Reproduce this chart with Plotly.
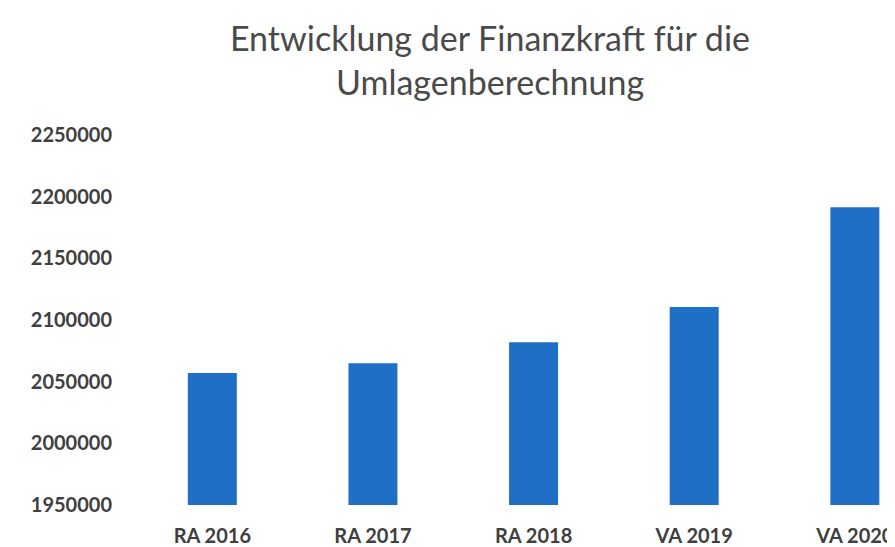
import plotly.graph_objects as go

categories = ["RA 2016", "RA 2017", "RA 2018", "VA 2019", "VA 2020"]
values = [2057000, 2065000, 2082000, 2110500, 2191500]
y_ticks = [1950000, 2000000, 2050000, 2100000, 2150000, 2200000, 2250000]

W, H = 887, 539  # page body adds an 8px offset in the browser

fig = go.Figure(go.Bar(
    x=categories, y=values,
    marker=dict(color="#1F6FC6", line=dict(width=0)),
))

fig.update_layout(
    width=W, height=H,
    paper_bgcolor="white", plot_bgcolor="white",
    margin=dict(l=124, r=0, t=127, b=42, autoexpand=False),
    bargap=0.695,
    showlegend=False,
    title=dict(
        text="Entwicklung der Finanzkraft für die<br>Umlagenberechnung",
        x=482/W, xanchor="center", xref="container",
        y=1 - 43/H, yanchor="middle", yref="container",
        font=dict(family="Lato", size=34, color="#4a4a4a"),
    ),
    font=dict(family="Lato", color="#404040"),
)

fig.update_yaxes(
    range=[1950000, 2250000],
    tickvals=y_ticks,
    ticktext=[str(v) for v in y_ticks],
    showgrid=False, zeroline=False, showline=False, automargin=False,
    ticks="outside", ticklen=15, tickcolor="rgba(0,0,0,0)",
    tickfont=dict(family="Lato", size=20, color="#404040", weight="bold"),
)
fig.update_xaxes(
    range=[-0.5, 4.25],
    showgrid=False, showline=False, automargin=False,
    ticks="outside", ticklen=13, tickcolor="rgba(0,0,0,0)",
    tickfont=dict(family="Lato", size=20, color="#404040", weight="bold"),
)

fig.write_html("out.html")
